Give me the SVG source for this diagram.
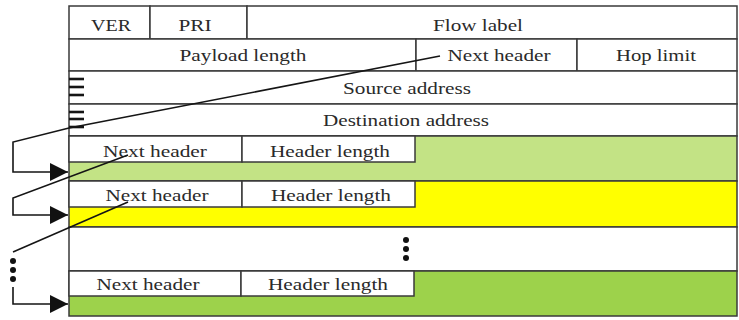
<svg xmlns="http://www.w3.org/2000/svg" width="739" height="320" viewBox="0 0 739 320">
<defs>
<style>
.cell{fill:#ffffff;stroke:#3a3a3a;stroke-width:1.5}
.t{font-family:"Liberation Serif","Times New Roman",serif;font-size:17.5px;fill:#2a2a2a;text-anchor:middle}
.conn{fill:none;stroke:#151515;stroke-width:1.6}
.hatch{stroke:#151515;stroke-width:2.6}
.dot{fill:#111}
</style>
<marker id="arr" markerUnits="userSpaceOnUse" markerWidth="18" markerHeight="18" viewBox="0 0 18 18" refX="18" refY="9" orient="auto">
<path d="M0,0 L18,9 L0,18 Z" fill="#111"/>
</marker>
</defs>
<rect width="739" height="320" fill="#ffffff"/>

<g id="ipv6-header">
<g id="row1">
<rect class="cell" x="69" y="6" width="81" height="33"/>
<rect class="cell" x="150" y="6" width="97" height="33"/>
<rect class="cell" x="247" y="6" width="490" height="33"/>
<text class="t" x="111" y="31" textLength="40" lengthAdjust="spacingAndGlyphs">VER</text>
<text class="t" x="195" y="31" textLength="33" lengthAdjust="spacingAndGlyphs">PRI</text>
<text class="t" x="478" y="31" textLength="90" lengthAdjust="spacingAndGlyphs">Flow label</text>
</g>
<g id="row2">
<rect class="cell" x="69" y="39" width="347" height="32"/>
<rect class="cell" x="416" y="39" width="161" height="32"/>
<rect class="cell" x="577" y="39" width="160" height="32"/>
<text class="t" x="243" y="61" textLength="127" lengthAdjust="spacingAndGlyphs">Payload length</text>
<text class="t" x="499" y="61" textLength="103" lengthAdjust="spacingAndGlyphs">Next header</text>
<text class="t" x="656" y="61" textLength="80" lengthAdjust="spacingAndGlyphs">Hop limit</text>
</g>
<g id="row3">
<rect class="cell" x="69" y="71" width="668" height="33"/>
<line class="hatch" x1="69" y1="79" x2="84" y2="79"/>
<line class="hatch" x1="69" y1="87" x2="84" y2="87"/>
<line class="hatch" x1="69" y1="95" x2="84" y2="95"/>
<text class="t" x="407" y="94" textLength="128" lengthAdjust="spacingAndGlyphs">Source address</text>
</g>
<g id="row4">
<rect class="cell" x="69" y="104" width="668" height="32"/>
<line class="hatch" x1="69" y1="112" x2="84" y2="112"/>
<line class="hatch" x1="69" y1="119" x2="84" y2="119"/>
<line class="hatch" x1="69" y1="127" x2="84" y2="127"/>
<text class="t" x="406" y="126" textLength="166" lengthAdjust="spacingAndGlyphs">Destination address</text>
</g>
</g>

<g id="ext1">
<rect class="cell" x="69" y="136" width="668" height="45" style="fill:#c3e385"/>
<rect class="cell" x="69" y="136" width="173" height="26"/>
<rect class="cell" x="242" y="136" width="173" height="26"/>
<text class="t" x="155" y="157" textLength="104" lengthAdjust="spacingAndGlyphs">Next header</text>
<text class="t" x="330" y="157" textLength="120" lengthAdjust="spacingAndGlyphs">Header length</text>
</g>

<g id="ext2">
<rect class="cell" x="69" y="181" width="668" height="46" style="fill:#ffff00"/>
<rect class="cell" x="69" y="181" width="173" height="26"/>
<rect class="cell" x="242" y="181" width="173" height="26"/>
<text class="t" x="157" y="201" textLength="103" lengthAdjust="spacingAndGlyphs">Next header</text>
<text class="t" x="331" y="201" textLength="120" lengthAdjust="spacingAndGlyphs">Header length</text>
</g>

<g id="gap">
<rect class="cell" x="69" y="227" width="668" height="44"/>
<circle class="dot" cx="406" cy="240" r="3"/>
<circle class="dot" cx="406" cy="249" r="3"/>
<circle class="dot" cx="406" cy="258" r="3"/>
</g>

<g id="extN">
<rect class="cell" x="69" y="271" width="668" height="45" style="fill:#9dd24b"/>
<rect class="cell" x="69" y="271" width="172" height="25"/>
<rect class="cell" x="241" y="271" width="173" height="25"/>
<text class="t" x="148" y="290" textLength="103" lengthAdjust="spacingAndGlyphs">Next header</text>
<text class="t" x="328" y="290" textLength="120" lengthAdjust="spacingAndGlyphs">Header length</text>
</g>

<g id="connectors">
<polyline class="conn" points="440,56 69,128 13,142 13,172 68,172" marker-end="url(#arr)"/>
<polyline class="conn" points="128,155 13,198 13,215 68,215" marker-end="url(#arr)"/>
<polyline class="conn" points="128,202 13,252"/>
<circle class="dot" cx="13" cy="261" r="3"/>
<circle class="dot" cx="13" cy="270" r="3"/>
<circle class="dot" cx="13" cy="279" r="3"/>
<polyline class="conn" points="13,287 13,304 68,304" marker-end="url(#arr)"/>
</g>
</svg>
